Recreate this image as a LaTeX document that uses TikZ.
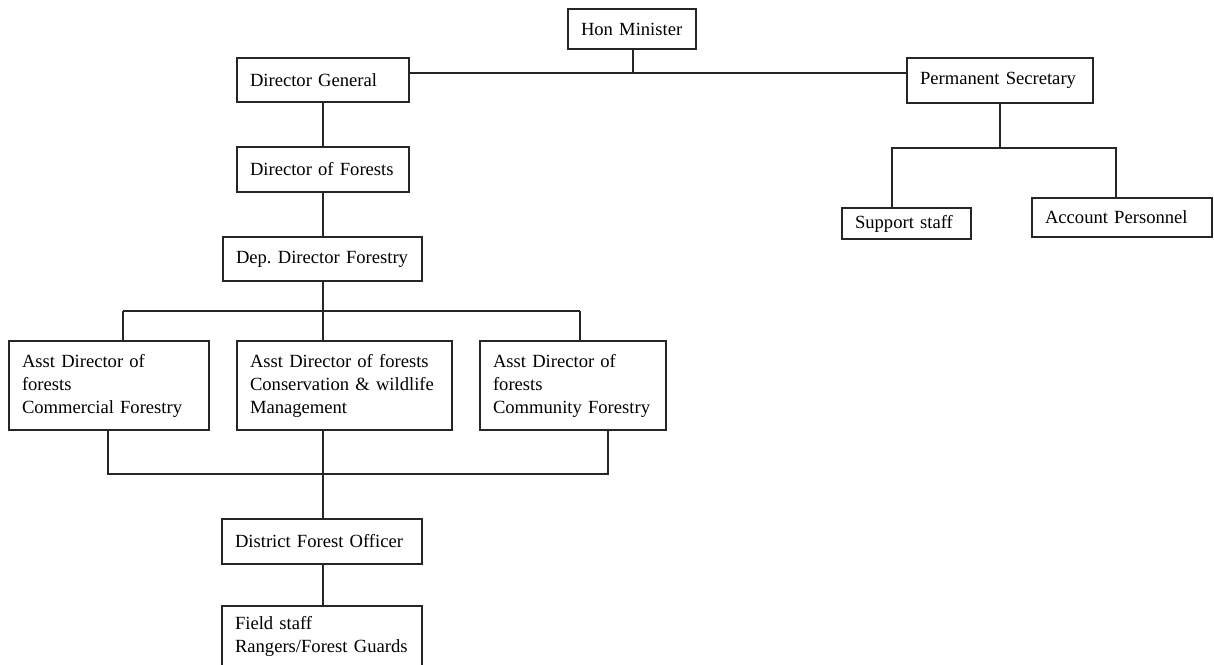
\documentclass[tikz,border=0pt]{standalone}
\usepackage{fontspec}
\setmainfont{Liberation Serif}
\frenchspacing
\begin{document}
\begin{tikzpicture}[x=1pt,y=-1pt,
  box/.style={draw=black!85, line width=1.1pt, fill=white, inner sep=0pt, align=left,
    font=\fontsize{18.6}{23}\selectfont},
  conn/.style={draw=black!85, line width=1.1pt}]
\clip (0,0) rectangle (1214,664);
\fill[white] (0,0) rectangle (1214,664);
% nodes
\node[box, minimum width=128, minimum height=40, text width=102] (hon) at (632,29) {Hon Minister};
\node[box, minimum width=172, minimum height=44, text width=146] (dg) at (323,80) {Director General};
\node[box, minimum width=186, minimum height=45, text width=160] (ps) at (1000,80.5) {Permanent Secretary};
\node[box, minimum width=172, minimum height=45, text width=146] (dof) at (323,169.5) {Director of Forests};
\node[box, minimum width=199, minimum height=44, text width=173] (ddf) at (322.5,259) {Dep. Director Forestry};
\node[box, minimum width=200, minimum height=89, text width=174] (ad1) at (109,385.5) {Asst Director of\\forests\\Commercial Forestry};
\node[box, minimum width=215, minimum height=89, text width=189] (ad2) at (344.5,385.5) {Asst Director of forests\\Conservation \& wildlife\\Management};
\node[box, minimum width=186, minimum height=89, text width=160] (ad3) at (573,385.5) {Asst Director of\\forests\\Community Forestry};
\node[box, minimum width=200, minimum height=45, text width=174] (dfo) at (322,541.5) {District Forest Officer};
\node[box, minimum width=200, minimum height=60, text width=174] (fs) at (322,636) {Field staff\\Rangers/Forest Guards};
\node[box, minimum width=129, minimum height=31, text width=103] (sup) at (906.5,223.5) {Support staff};
\node[box, minimum width=180, minimum height=39, text width=154] (acc) at (1122,217.5) {Account Personnel};
% junction coordinates
\coordinate (j1) at (633,73);
\coordinate (j2) at (323,311);
\coordinate (t1) at (123,311);
\coordinate (t3) at (580,311);
\coordinate (b1) at (108,474);
\coordinate (b3) at (608,474);
\coordinate (j3) at (323,474);
\coordinate (j4) at (1000,148);
\coordinate (s1) at (892,148);
\coordinate (s2) at (1116,148);
% connectors
\draw[conn] (hon.south -| j1) -- (j1);
\draw[conn] (dg.east |- j1) -- (ps.west |- j1);
\draw[conn] (dg.south) -- (dof.north);
\draw[conn] (dof.south) -- (dof.south |- ddf.north);
\draw[conn] (ddf.south -| j2) -- (j2);
\draw[conn] (t1) -- (t3);
\draw[conn] (t1) -- (t1 |- ad1.north);
\draw[conn] (j2) -- (j2 |- ad2.north);
\draw[conn] (t3) -- (t3 |- ad3.north);
\draw[conn] (b1 |- ad1.south) -- (b1) -- (b3) -- (b3 |- ad3.south);
\draw[conn] (j3 |- ad2.south) -- (j3) -- (j3 |- dfo.north);
\draw[conn] (dfo.south -| j3) -- (j3 |- fs.north);
\draw[conn] (ps.south) -- (j4);
\draw[conn] (s1 |- sup.north) -- (s1) -- (s2) -- (s2 |- acc.north);
\end{tikzpicture}
\end{document}
